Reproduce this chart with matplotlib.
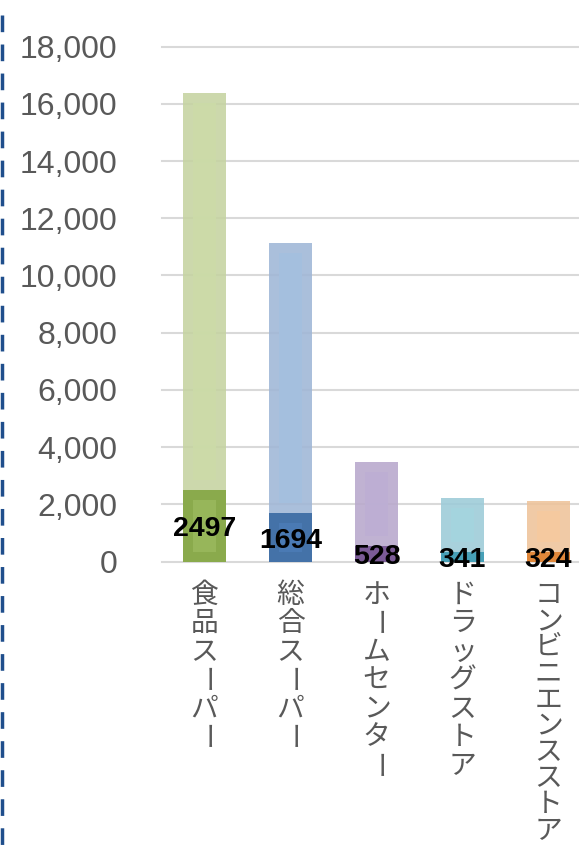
import matplotlib
matplotlib.use("Agg")
import matplotlib.pyplot as plt
from matplotlib.lines import Line2D
import numpy as np

categories = ["食品スーパー", "総合スーパー", "ホームセンター", "ドラッグストア", "コンビニエンスストア"]
totals = [16390, 11150, 3480, 2220, 2115]
parts = [2497, 1694, 528, 341, 324]
yticks = [0, 2000, 4000, 6000, 8000, 10000, 12000, 14000, 16000, 18000]

bg_colors = ["#c5d3a1", "#9fb6d6", "#b8a8cc", "#9ccbd8", "#eec39a"]
bg_inner = ["#ccdba8", "#a4c0df", "#bdaed4", "#a4d5df", "#f6c99f"]
fg_colors = ["#8aaa4c", "#4472a8", "#7b5b97", "#47a0b7", "#e0873a"]
fg_inner = ["#97b65a", "#4a7ab4", "#82639f", "#4eabc1", "#e8903f"]

plt.rcParams["lines.scale_dashes"] = False

W, H, DPI = 579, 846, 100
fig = plt.figure(figsize=(W / DPI, H / DPI), dpi=DPI)
ax = fig.add_axes([161.5 / W, 284.5 / H, 430 / W, (799.3 - 284.5) / H])

x = np.arange(len(categories))
bw = 0.51
iw = 0.256
px = 18000 / (799.3 - 284.5)  # data units per pixel
inset = 10 * px

ax.set_ylim(0, 18000)
ax.set_xlim(-0.5, len(categories) - 0.5)
for t in yticks:
    ax.axhline(t, color="#d9d9d9", lw=1.5, zorder=0, clip_on=False)

for i in range(len(categories)):
    top = totals[i] - parts[i]
    ax.bar(x[i], top, bottom=parts[i], width=bw, color=bg_colors[i], alpha=0.88, zorder=2, lw=0)
    if top > 2.5 * inset:
        ax.bar(x[i], top - 2 * inset, bottom=parts[i] + inset, width=iw, color=bg_inner[i], alpha=0.9, zorder=3, lw=0)
    ax.bar(x[i], parts[i], width=bw, color=fg_colors[i], zorder=4, lw=0)
    if parts[i] > 2.5 * inset:
        ax.bar(x[i], parts[i] - 2 * inset, bottom=inset, width=iw, color=fg_inner[i], zorder=5, lw=0)
    ax.annotate(str(parts[i]), xy=(x[i], parts[i] / 2), xytext=(0, -7.5), textcoords="offset points",
                ha="center", va="baseline", fontsize=20.5, fontweight="bold",
                family="Liberation Sans", color="black", zorder=6)

ax.set_yticks(yticks)
ax.set_yticklabels([f"{v:,}" for v in yticks], family="Liberation Sans", fontsize=23, color="#595959")
ax.tick_params(axis="y", length=0, pad=32)
ax.set_xticks([])
for s in ax.spines.values():
    s.set_visible(False)

# vertical category labels, one character per line
for i, name in enumerate(categories):
    pitch = (28.5 if len(name) < 9 else 26.2) * 0.72
    for k, ch in enumerate(name):
        rot = -90 if ch == "ー" else 0
        ax.annotate(ch, xy=(x[i], 0), xytext=(0, -24 - k * pitch), textcoords="offset points",
                    ha="center", va="center", fontsize=20, color="#595959", rotation=rot,
                    family=["Noto Sans CJK JP", "DejaVu Sans"], annotation_clip=False)

# dashed border on the left edge
ln = Line2D([1.7 / W, 1.7 / W], [1 - 15 / H, 0], transform=fig.transFigure, color="#1f4e8c", lw=2.5,
            linestyle=(0, (12.0, 8.9)))
fig.add_artist(ln)

fig.savefig("out.png", dpi=DPI)
